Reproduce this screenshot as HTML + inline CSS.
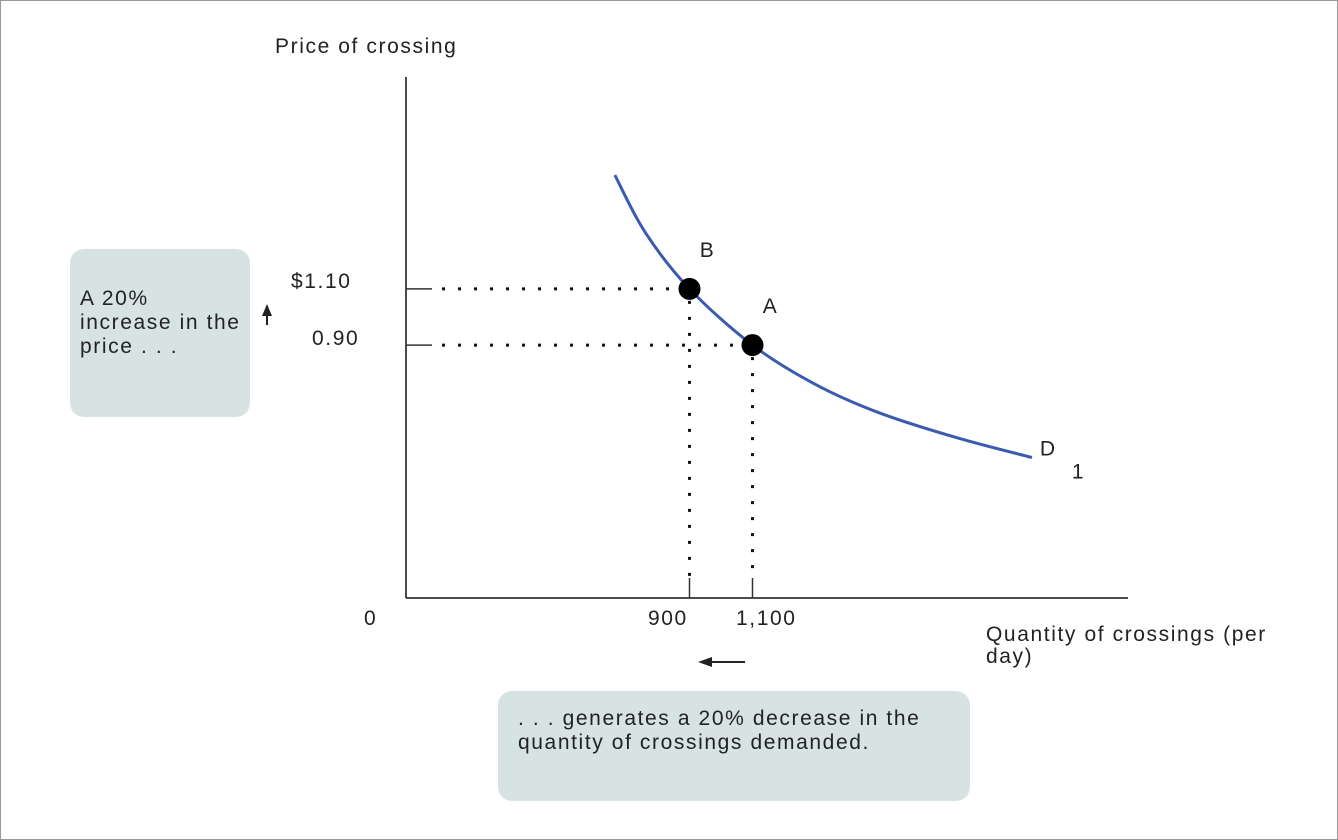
<!DOCTYPE html>
<html><head><meta charset="utf-8"><style>
html,body{margin:0;padding:0;background:#fff}
svg{display:block}
text{font-family:"Liberation Sans",sans-serif;font-size:21px;letter-spacing:1.6px;fill:#222}
</style></head><body>
<svg width="1338" height="840">
<rect x="0.5" y="0.5" width="1337" height="839" fill="#fff" stroke="#999"/>
<rect x="70" y="249" width="180" height="168" rx="14" fill="#d6e3e2"/>
<text x="80" y="305"><tspan x="80">A 20%</tspan><tspan x="80" dy="24">increase in the</tspan><tspan x="80" dy="24">price . . .</tspan></text>
<line x1="267" y1="325" x2="267" y2="312" stroke="#222" stroke-width="2"/>
<polygon points="267,304 262,316 272,316" fill="#222"/>
<rect x="498" y="691" width="472" height="110" rx="14" fill="#d6e3e2"/>
<text x="518" y="725"><tspan x="518">. . . generates a 20% decrease in the</tspan><tspan x="518" dy="24">quantity of crossings demanded.</tspan></text>
<line x1="745" y1="662" x2="708" y2="662" stroke="#222" stroke-width="2"/>
<polygon points="698,662 712,657 712,667" fill="#222"/>
<text x="275" y="53">Price of crossing</text>
<text x="986" y="641"><tspan x="986">Quantity of crossings (per</tspan><tspan x="986" dy="22">day)</tspan></text>
<text x="364" y="625">0</text>
<g id="plot"></g>
</svg>
<script>
const curveQ=[663,760,900,1100,1300,1500,1750,1987];
const curveP=[1.505,1.3,1.10,0.90,0.76,0.66,0.57,0.50];
const pointNames=["B","A"];
const pointQ=[900,1100];
const pointP=[1.10,0.90];
const qTickLabels=["900","1,100"];
const pTickLabels=["$1.10","0.90"];
const X0=406,Y0=598;
function sx(q){return X0+q*0.315;}
function sy(p){return Y0-p*281;}
const NS="http://www.w3.org/2000/svg";
const g=document.getElementById('plot');
function mk(t,a){const e=document.createElementNS(NS,t);for(const k in a)e.setAttribute(k,a[k]);g.appendChild(e);return e;}
let ax=mk('line',{x1:X0,y1:77,x2:X0,y2:Y0,stroke:'#111','stroke-width':1.5});


ax=mk('line',{x1:X0,y1:Y0,x2:1128,y2:Y0,stroke:'#111','stroke-width':1.5});


const pts=curveQ.map((q,i)=>[sx(q),sy(curveP[i])]);
let d='M'+pts[0][0]+','+pts[0][1];
for(let i=0;i<pts.length-1;i++){const p0=pts[Math.max(0,i-1)],p1=pts[i],p2=pts[i+1],p3=pts[Math.min(pts.length-1,i+2)];
d+=' C'+(p1[0]+(p2[0]-p0[0])/6)+','+(p1[1]+(p2[1]-p0[1])/6)+' '+(p2[0]-(p3[0]-p1[0])/6)+','+(p2[1]-(p3[1]-p1[1])/6)+' '+p2[0]+','+p2[1];}
const c=mk('path',{d:d,fill:'none',stroke:'#3a5bb0','stroke-width':3});


let t=mk('text',{x:sx(curveQ[curveQ.length-1])+8,y:sy(curveP[curveP.length-1])-2});t.textContent='D';


t=mk('text',{x:sx(curveQ[curveQ.length-1])+40,y:sy(curveP[curveP.length-1])+21});t.textContent='1';


const yLabelX=[291,312];
const xLabelX=[648,736];
pointQ.forEach((q,i)=>{
 const x=sx(q),y=sy(pointP[i]);
 let l=mk('line',{x1:X0,y1:y,x2:X0+26,y2:y,stroke:'#333','stroke-width':1.5});
 
 
 l=mk('line',{x1:X0+36,y1:y,x2:x-8,y2:y,stroke:'#111','stroke-width':3,'stroke-dasharray':'3,13','stroke-linecap':'butt'});
 
 
 l=mk('line',{x1:x,y1:y+12,x2:x,y2:576,stroke:'#111','stroke-width':3,'stroke-dasharray':'3,13'});
 
 
 l=mk('line',{x1:x,y1:578,x2:x,y2:Y0,stroke:'#333','stroke-width':1.5});
 
 
 let tx=mk('text',{x:xLabelX[i],y:625});tx.textContent=qTickLabels[i];
 
 
 tx=mk('text',{x:yLabelX[i],y:i==0?y-1:y});tx.textContent=pTickLabels[i];
 
 
 const dot=mk('circle',{cx:x,cy:y,r:11,fill:'#000'});
 
 
 tx=mk('text',{x:x+18,y:y-32,'text-anchor':'middle'});tx.textContent=pointNames[i];
 
 
});
</script>
</body></html>
